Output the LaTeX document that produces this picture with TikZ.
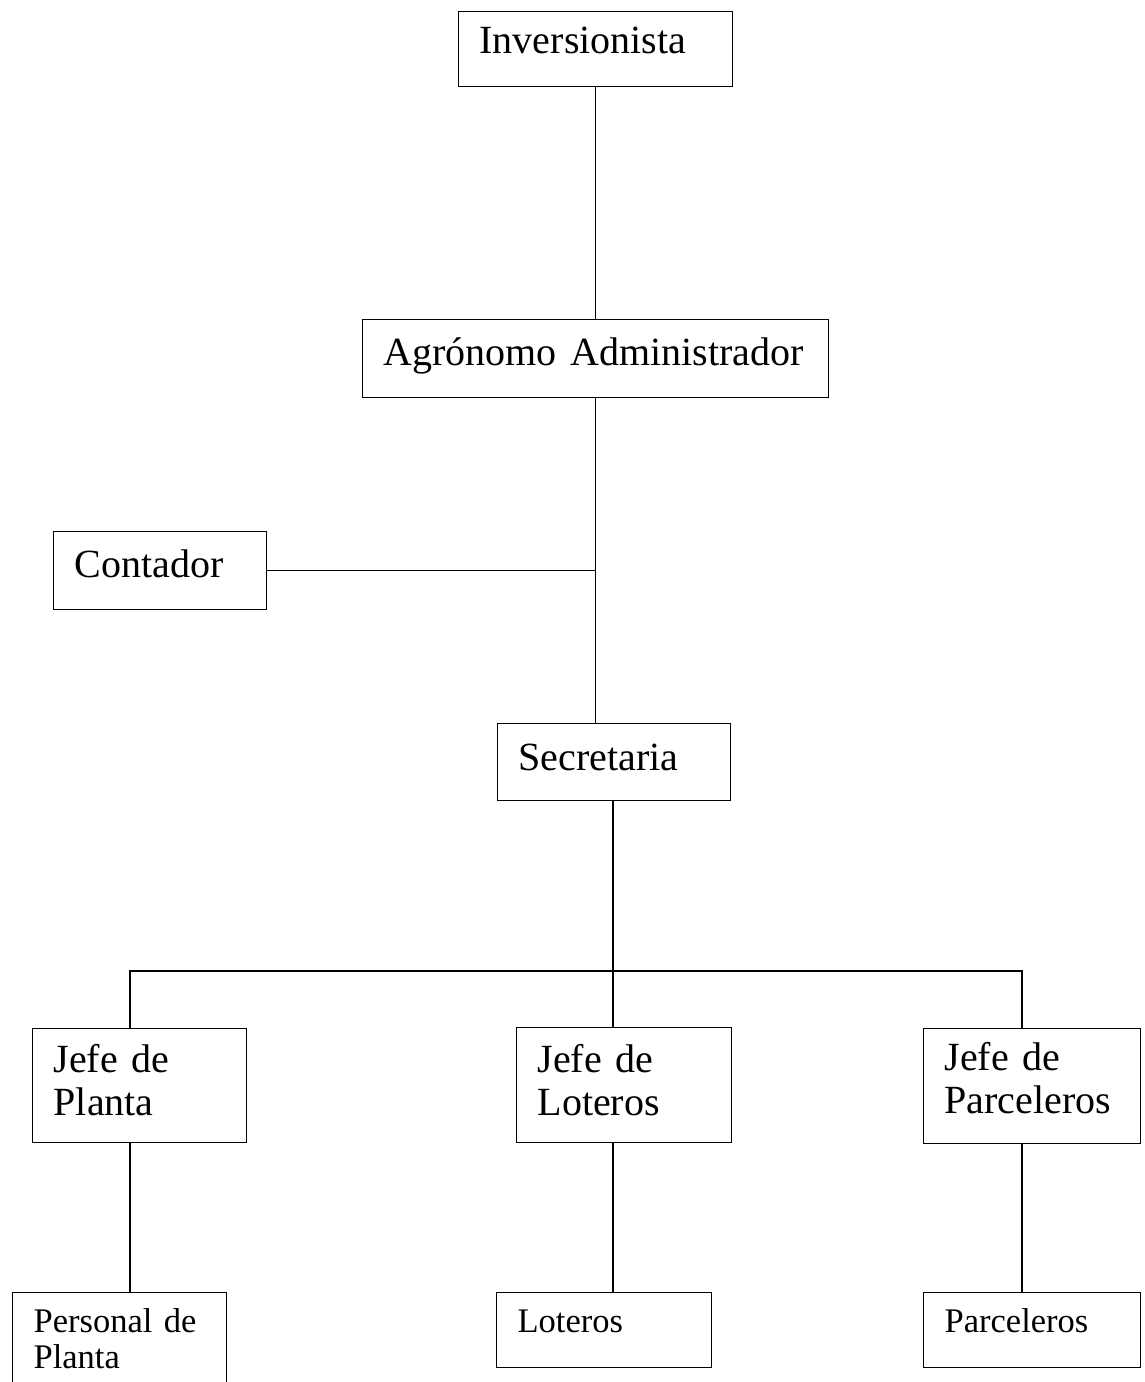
\documentclass[tikz,border=0pt]{standalone}
\usepackage{fontspec}
\setmainfont{Liberation Serif}
\tikzset{
  unit/.style={draw, anchor=north west, align=left, inner xsep=21pt, inner ysep=0pt,
    font=\fontsize{40}{43}\selectfont},
  staff/.style={unit, font=\fontsize{34.5}{36}\selectfont}
}

\begin{document}
\begin{tikzpicture}[x=1pt, y=-1pt, line width=1.3pt]
\useasboundingbox (0,0) rectangle (1144,1382);
% Boxes
    \node[unit, text width=232, text height=42, text depth=33] (inv) at (458,11) {Inversionista};
    \node[unit, text width=424, text height=46, text depth=32] (agr) at (362,319) {Agrónomo Administrador};
    \node[unit, text width=171, text height=46, text depth=32] (cont) at (53,531) {Contador};
    \node[unit, text width=191, text height=47, text depth=30] (sec) at (497,723) {Secretaria};
    \node[unit, text width=172, text height=44, text depth=70] (jplanta) at (32,1028) {Jefe de\\Planta};
    \node[unit, text width=173, text height=45, text depth=70] (jlot) at (516,1027) {Jefe de\\Loteros};
    \node[unit, text width=175, text height=42, text depth=73] (jparc) at (923,1028) {Jefe de\\Parceleros};
    \node[staff, text width=172, text height=40, text depth=70] (pplanta) at (12,1292) {Personal de\\Planta};
    \node[staff, text width=173, text height=40, text depth=35] (lot) at (496,1292) {Loteros};
    \node[staff, text width=175, text height=40, text depth=35] (parc) at (923,1292) {Parceleros};
% Bus points
    \coordinate (b1) at (130,971);
    \coordinate (b2) at (613,971);
    \coordinate (b3) at (1022,971);
% Lines
    \draw (inv.south) -- (agr.north);
    \draw (agr.south) -- (agr.south |- sec.north);
    \draw (cont.east) -- (cont.east -| agr.south);
    \draw (sec.south -| b2) -- (b2);
    \draw (b1 |- jplanta.north) -- (b1) -- (b3) -- (b3 |- jparc.north);
    \draw (b2) -- (b2 |- jlot.north);
    \draw (b1 |- jplanta.south) -- (b1 |- pplanta.north);
    \draw (b2 |- jlot.south) -- (b2 |- lot.north);
    \draw (b3 |- jparc.south) -- (b3 |- parc.north);
\end{tikzpicture}
\end{document}
